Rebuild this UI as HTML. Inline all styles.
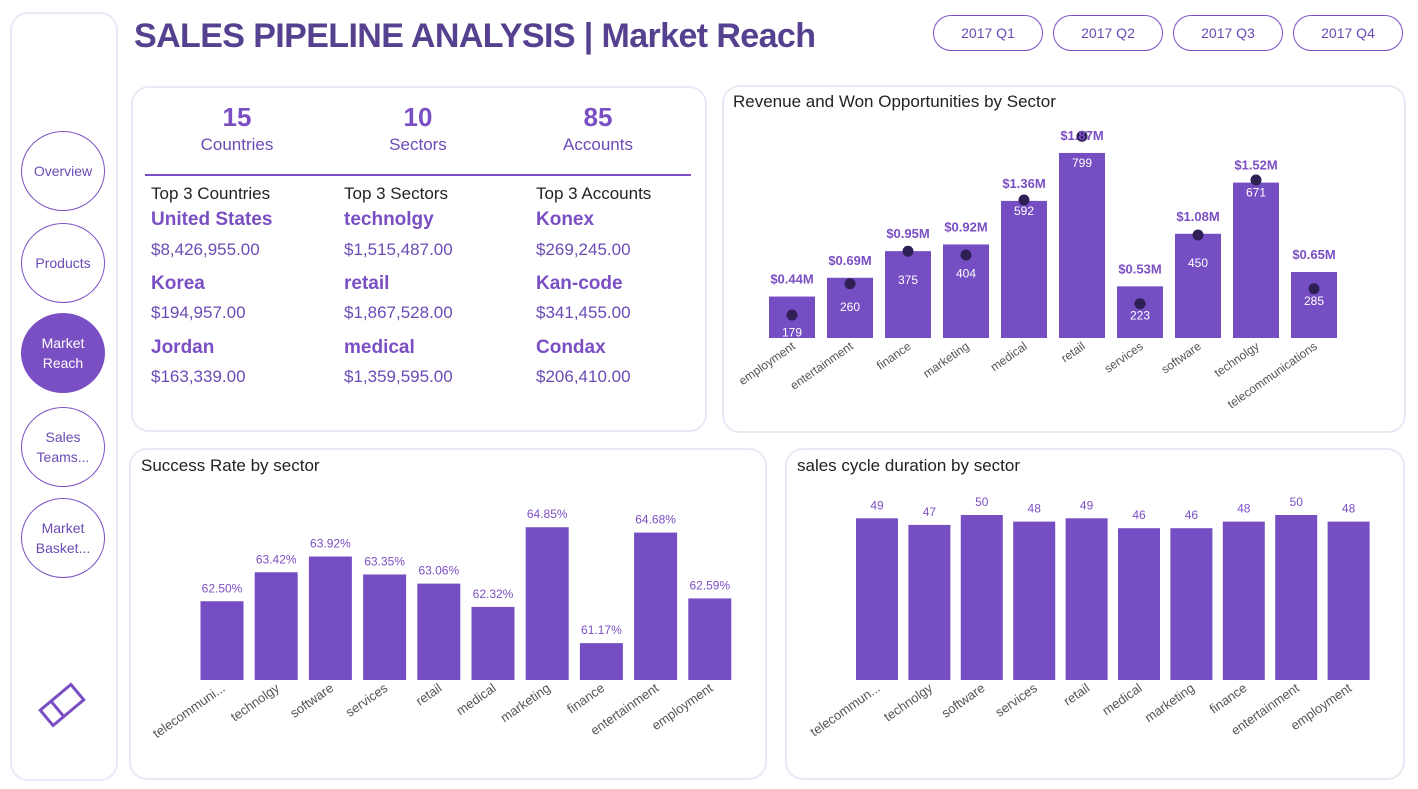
<!DOCTYPE html>
<html><head><meta charset="utf-8"><style>
body{margin:0;width:1418px;height:789px;background:#fff;font-family:"Liberation Sans",sans-serif;position:relative;overflow:hidden}
.card{position:absolute;border:2px solid #ebe7f5;border-radius:18px;background:#fff}
.nav{position:absolute;left:10px;top:12px;width:104px;height:765px;border:2px solid #ece8f7;border-radius:18px}
.circ{position:absolute;left:21px;width:82px;height:78px;border:1.5px solid #7b4fc4;border-radius:50%;display:flex;align-items:center;justify-content:center;text-align:center;font-size:14px;color:#6b4bb5;line-height:20px}
.q{position:absolute;top:15px;width:108px;height:34px;border:1.5px solid #7b4fc4;border-radius:18px;display:flex;align-items:center;justify-content:center;color:#6b4bb5;font-size:14px}
.kn{position:absolute;width:180px;text-align:center;font-size:26px;font-weight:bold;color:#7b4fc4}
.kl{position:absolute;width:180px;text-align:center;font-size:17px;color:#6b4bb5}
.th{position:absolute;font-size:17px;color:#222}
.tn{position:absolute;font-size:19px;font-weight:bold;color:#7b4fc4}
.tv{position:absolute;font-size:17px;color:#6b4bb5}
.ct{position:absolute;font-size:17px;color:#222}
</style></head><body>
<div class="nav"></div>
<div class="circ" style="top:131px">Overview</div>
<div class="circ" style="top:223px">Products</div>
<div class="circ" style="top:313px;background:#7b4fc4;color:#fff">Market<br>Reach</div>
<div class="circ" style="top:407px">Sales<br>Teams...</div>
<div class="circ" style="top:498px">Market<br>Basket...</div>
<svg style="position:absolute;left:36px;top:680px" width="52" height="50"><g transform="rotate(-40 26 25)" fill="none" stroke="#7b4fc4" stroke-width="3"><rect x="6" y="15" width="40" height="20"/><line x1="20" y1="15" x2="20" y2="35"/></g></svg>
<div style="position:absolute;left:134px;top:17px;font-size:34px;letter-spacing:-0.6px;font-weight:bold;color:#55418f">SALES PIPELINE ANALYSIS | Market Reach</div>
<div class="q" style="left:933px">2017 Q1</div>
<div class="q" style="left:1053px">2017 Q2</div>
<div class="q" style="left:1173px">2017 Q3</div>
<div class="q" style="left:1293px">2017 Q4</div>

<div class="card" style="left:131px;top:86px;width:572px;height:342px"></div>
<div class="kn" style="left:147px;top:102px">15</div>
<div class="kl" style="left:147px;top:135px">Countries</div>
<div class="kn" style="left:328px;top:102px">10</div>
<div class="kl" style="left:328px;top:135px">Sectors</div>
<div class="kn" style="left:508px;top:102px">85</div>
<div class="kl" style="left:508px;top:135px">Accounts</div>
<div style="position:absolute;left:145px;top:174px;width:546px;height:2px;background:#7b4fc4"></div>
<div class="th" style="left:151px;top:184px">Top 3 Countries</div>
<div class="th" style="left:344px;top:184px">Top 3 Sectors</div>
<div class="th" style="left:536px;top:184px">Top 3 Accounts</div>
<div class="tn" style="left:151px;top:209px">United States</div>
<div class="tv" style="left:151px;top:240px">$8,426,955.00</div>
<div class="tn" style="left:151px;top:273px">Korea</div>
<div class="tv" style="left:151px;top:303px">$194,957.00</div>
<div class="tn" style="left:151px;top:337px">Jordan</div>
<div class="tv" style="left:151px;top:367px">$163,339.00</div>
<div class="tn" style="left:344px;top:209px">technolgy</div>
<div class="tv" style="left:344px;top:240px">$1,515,487.00</div>
<div class="tn" style="left:344px;top:273px">retail</div>
<div class="tv" style="left:344px;top:303px">$1,867,528.00</div>
<div class="tn" style="left:344px;top:337px">medical</div>
<div class="tv" style="left:344px;top:367px">$1,359,595.00</div>
<div class="tn" style="left:536px;top:209px">Konex</div>
<div class="tv" style="left:536px;top:240px">$269,245.00</div>
<div class="tn" style="left:536px;top:273px">Kan-code</div>
<div class="tv" style="left:536px;top:303px">$341,455.00</div>
<div class="tn" style="left:536px;top:337px">Condax</div>
<div class="tv" style="left:536px;top:367px">$206,410.00</div>

<div class="card" style="left:722px;top:85px;width:680px;height:344px"></div>
<div class="ct" style="left:733px;top:92px">Revenue and Won Opportunities by Sector</div>
<div class="card" style="left:129px;top:448px;width:634px;height:328px"></div>
<div class="ct" style="left:141px;top:456px">Success Rate by sector</div>
<div class="card" style="left:785px;top:448px;width:616px;height:328px"></div>
<div class="ct" style="left:797px;top:456px">sales cycle duration by sector</div>

<svg id="chart" style="position:absolute;left:0;top:0" width="1418" height="789"></svg>
<script>
const revCats=["employment","entertainment","finance","marketing","medical","retail","services","software","technolgy","telecommunications"];
const wonOpps=[179,260,375,404,592,799,223,450,671,285];
const revenue=[0.44,0.69,0.95,0.92,1.36,1.87,0.53,1.08,1.52,0.65];
const srCats=["telecommuni...","technolgy","software","services","retail","medical","marketing","finance","entertainment","employment"];
const successRate=[62.50,63.42,63.92,63.35,63.06,62.32,64.85,61.17,64.68,62.59];
const cycCats=["telecommun...","technolgy","software","services","retail","medical","marketing","finance","entertainment","employment"];
const cycleDays=[49,47,50,48,49,46,46,48,50,48];

const svg=document.getElementById('chart');
const NS="http://www.w3.org/2000/svg";
function mk(tag,attrs,text){const e=document.createElementNS(NS,tag);for(const k in attrs)e.setAttribute(k,attrs[k]);if(text!==undefined)e.textContent=text;svg.appendChild(e);return e;}
const PUR="#744ec2",FONT="Liberation Sans, sans-serif";

// Revenue chart
const rx=i=>792+i*58, ry=v=>338-v*0.2316, rdy=v=>370-v*125;
revCats.forEach((c,i)=>{
  const x=rx(i),t=ry(wonOpps[i]);
  let e=mk('rect',{x:x-23,y:t,width:46,height:338-t,fill:PUR});
  
  
  e=mk('text',{x:x,y:t+(wonOpps[i]>500?14:wonOpps[i]<200?40:33),'text-anchor':'middle','font-size':12,fill:'#fff','font-family':FONT},wonOpps[i]);
  
  
  e=mk('circle',{cx:x,cy:rdy(revenue[i]),r:5.5,fill:'#2e1f55'});
  
  
  e=mk('text',{x:x,y:t-13,'text-anchor':'middle','font-size':13,'font-weight':'bold',fill:'#7b4fc4','font-family':FONT},'$'+revenue[i].toFixed(2)+'M');
  
  
  e=mk('text',{x:x+4,y:348,'text-anchor':'end','font-size':12,fill:'#555','font-family':FONT,transform:`rotate(-35 ${x+4} 348)`},c);
  
  
});

// Success rate chart
const sx=i=>222+i*54.2, sy=v=>680-(v-60)*31.5;
srCats.forEach((c,i)=>{
  const x=sx(i),t=sy(successRate[i]);
  let e=mk('rect',{x:x-21.5,y:t,width:43,height:680-t,fill:PUR});
  
  
  e=mk('text',{x:x,y:t-9,'text-anchor':'middle','font-size':12,fill:'#7b4fc4','font-family':FONT},successRate[i].toFixed(2)+'%');
  
  
  e=mk('text',{x:x+4,y:690,'text-anchor':'end','font-size':13,fill:'#555','font-family':FONT,transform:`rotate(-35 ${x+4} 690)`},c);
  
  
});

// Cycle chart
const cx=i=>877+i*52.4, cy=v=>680-v*3.3;
cycCats.forEach((c,i)=>{
  const x=cx(i),t=cy(cycleDays[i]);
  let e=mk('rect',{x:x-21,y:t,width:42,height:680-t,fill:PUR});
  
  
  e=mk('text',{x:x,y:t-9,'text-anchor':'middle','font-size':12,fill:'#7b4fc4','font-family':FONT},cycleDays[i]);
  
  
  e=mk('text',{x:x+4,y:690,'text-anchor':'end','font-size':13,fill:'#555','font-family':FONT,transform:`rotate(-35 ${x+4} 690)`},c);
  
  
});
</script>
</body></html>
